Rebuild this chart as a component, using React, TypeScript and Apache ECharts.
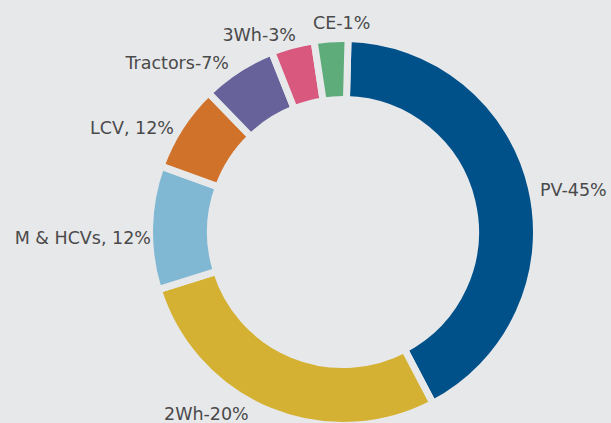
import React, { useEffect, useRef } from "react";
import * as echarts from "echarts";

// Segments, clockwise from the top
const categories = ["PV", "2Wh", "M & HCVs", "LCV", "Tractors", "3Wh", "CE"];
const labelTexts = ["PV-45%", "2Wh-20%", "M & HCVs, 12%", "LCV, 12%", "Tractors-7%", "3Wh-3%", "CE-1%"];
// Shares as drawn in the picture (angular size of each segment, degrees)
const drawnShares = [150.8, 100.4, 37.2, 26.1, 22.4, 13.0, 10.1];
const colors = ["#00508a", "#d5b133", "#80b8d4", "#d1722b", "#67629a", "#d9587e", "#5dac7a"];

// Label anchors: [x, y, align]
const labelAnchors: [number, number, string][] = [
  [540, 190, "left"],
  [164, 414, "left"],
  [151, 238, "right"],
  [174, 128, "right"],
  [229, 63, "right"],
  [296, 35, "right"],
  [313, 23, "left"],
];

const BG = "#e7e8ea";

export default function App() {
  const ref = useRef<HTMLDivElement>(null);
  useEffect(() => {
    if (!ref.current) return;
    const chart = echarts.init(ref.current, undefined, { renderer: "svg" });
    chart.setOption({
      animation: false,
      backgroundColor: BG,
      series: [
        {
          type: "pie",
          center: [343, 232],
          radius: [132.5, 193.5],
          startAngle: 88.5,
          clockwise: true,
          avoidLabelOverlap: false,
          silent: true,
          data: categories.map((c, i) => ({
            name: c,
            value: drawnShares[i],
            itemStyle: { color: colors[i] },
          })),
          itemStyle: { borderColor: BG, borderWidth: 7 },
          label: {
            show: true,
            position: "outside",
            formatter: (p: any) => labelTexts[p.dataIndex],
            fontFamily: "DejaVu Sans",
            fontSize: 17.5,
            color: "#4a4a4a",
          },
          labelLine: { show: false },
          labelLayout: (p: any) => {
            const a = labelAnchors[p.dataIndex];
            return { x: a[0], y: a[1], align: a[2], verticalAlign: "middle" };
          },
        },
      ],
    });
    return () => chart.dispose();
  }, []);
  return (
    <div
      ref={ref}
      style={{ position: "fixed", left: 0, top: 0, width: 611, height: 423 }}
    />
  );
}
